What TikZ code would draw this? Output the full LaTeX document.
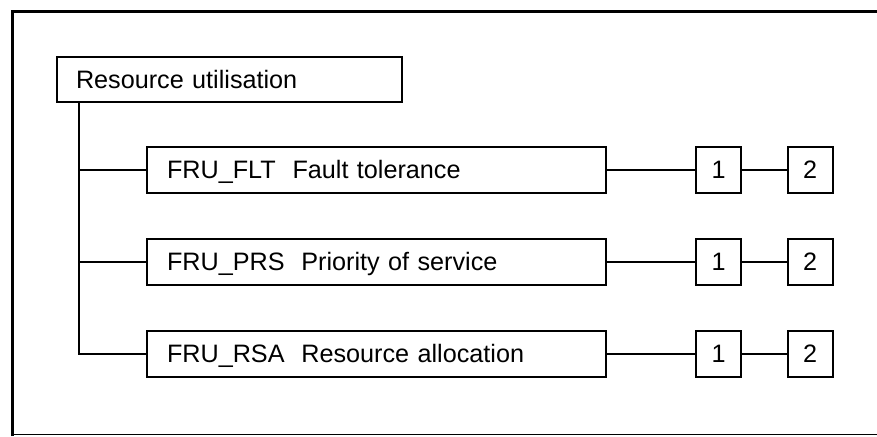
\documentclass[tikz,border=0pt]{standalone}
\usepackage{fontspec}
\setmainfont{Liberation Sans}
\usepackage{tikz}
\usetikzlibrary{positioning,calc}
\tikzset{
  % rutor
  topbox/.style={draw=black,line width=1pt,minimum height=22.5pt,
                 text width=153.5pt,inner xsep=9.5pt,align=left,
                 text height=10.5pt,text depth=2pt,
                 font=\fontsize{12.6}{14}\selectfont},
  fambox/.style={draw=black,line width=1pt,minimum height=23pt,
                 text width=209.5pt,inner xsep=10pt,align=left,
                 text height=10.5pt,text depth=2pt,
                 font=\fontsize{12.6}{14}\selectfont},
  lvl/.style={draw=black,line width=1pt,minimum height=23pt,
              minimum width=22.5pt,inner sep=0pt,
              text height=10.5pt,text depth=2pt,
              font=\fontsize{12.6}{14}\selectfont},
  % linjer
  conn/.style={draw=black,line width=0.8pt},
  frame/.style={draw=black,line width=1.5pt},
}
\begin{document}
\begin{tikzpicture}[x=0.5pt,y=-0.5pt]
\useasboundingbox (0,0) rectangle (877,436);
  % ram
  \draw[frame] (12.5,436) -- (12.5,11) -- (877,11);
  \draw[conn,line width=0.5pt] (12,434.5) -- (877,434.5);
  \node[topbox] (top) at (229.5,79.5) {Resource utilisation};
  \node[fambox] (flt) at (376.5,170) {FRU\_FLT\ \ Fault tolerance};
  \node[fambox] (prs) at (376.5,262) {FRU\_PRS\ \ Priority of service};
  \node[fambox] (rsa) at (376.5,354) {FRU\_RSA\ \ Resource allocation};
  \node[lvl] (flt1) at (718.5,170) {1};
  \node[lvl] (flt2) at (810,170) {2};
  \node[lvl] (prs1) at (718.5,262) {1};
  \node[lvl] (prs2) at (810,262) {2};
  \node[lvl] (rsa1) at (718.5,354) {1};
  \node[lvl] (rsa2) at (810,354) {2};
  \coordinate (trunk) at (79,0);
  \draw[conn] (top.south -| trunk) |- (rsa.west);
  \draw[conn] (flt.west -| trunk) -- (flt.west);
  \draw[conn] (prs.west -| trunk) -- (prs.west);
  \draw[conn] (flt) -- (flt1);
  \draw[conn] (flt1) -- (flt2);
  \draw[conn] (prs) -- (prs1);
  \draw[conn] (prs1) -- (prs2);
  \draw[conn] (rsa) -- (rsa1);
  \draw[conn] (rsa1) -- (rsa2);
\end{tikzpicture}
\end{document}
